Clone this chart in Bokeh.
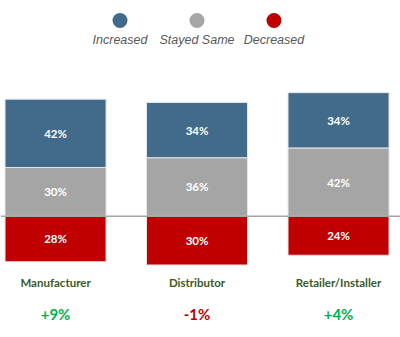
from bokeh.plotting import figure
from bokeh.models import Range1d, ColumnDataSource, Span
from bokeh.core.properties import value
from bokeh.embed import file_html
from bokeh.resources import INLINE

categories = ["Manufacturer", "Distributor", "Retailer/Installer"]
increased = [42, 34, 34]
stayed_same = [30, 36, 42]
decreased = [28, 30, 24]
net_labels = ["+9%", "-1%", "+4%"]
net_colors = ["#00b050", "#c00000", "#00b050"]
series_names = ["Increased", "Stayed Same", "Decreased"]
series_colors = ["#426a8a", "#a5a5a5", "#c00000"]

W, H = 400, 337
X0, X1 = -0.389, 2.438
Y0, Y1 = -74.6, 132.7


def px2x(px):
    return X0 + px / W * (X1 - X0)


def py2y(py):
    return Y1 - py / H * (Y1 - Y0)


p = figure(width=W, height=H, output_backend="svg", toolbar_location=None,
           x_range=Range1d(X0, X1), y_range=Range1d(Y0, Y1), min_border=0)
p.axis.visible = False
p.grid.visible = False
p.outline_line_color = None
p.background_fill_color = "white"
p.border_fill_color = "white"

xs = list(range(len(categories)))

p.add_layout(Span(location=0, dimension="width", line_color="#a6a6a6", line_width=1.5))

src = ColumnDataSource(dict(
    x=xs,
    dec_b=[-d for d in decreased], dec_t=[0] * len(xs),
    same_b=[0] * len(xs), same_t=stayed_same,
    inc_b=stayed_same, inc_t=[s + i for s, i in zip(stayed_same, increased)],
    dec_m=[-d / 2 for d in decreased],
    same_m=[s / 2 for s in stayed_same],
    inc_m=[s + i / 2 for s, i in zip(stayed_same, increased)],
    dec_l=[f"{d}%" for d in decreased],
    same_l=[f"{s}%" for s in stayed_same],
    inc_l=[f"{i}%" for i in increased],
))

bw = 0.714
for b, t, c in [("dec_b", "dec_t", series_colors[2]),
                ("same_b", "same_t", series_colors[1]),
                ("inc_b", "inc_t", series_colors[0])]:
    p.vbar(x="x", bottom=b, top=t, width=bw, source=src, fill_color=c,
           line_color="#e6e6e6", line_width=1)

for m, l in [("dec_m", "dec_l"), ("same_m", "same_l"), ("inc_m", "inc_l")]:
    p.text(x="x", y=m, text=l, source=src, text_color="white",
           text_font=value("Lato"), text_font_style="bold", text_font_size="11.5px",
           text_align="center", text_baseline="middle")

# category labels
p.text(x=xs, y=[py2y(281.5)] * len(xs), text=categories, text_color="#3a5a2a",
       text_font=value("Lato"), text_font_style="bold", text_font_size="11.5px",
       text_align="center", text_baseline="middle")

# net labels
p.text(x=xs, y=[py2y(313.5)] * len(xs), text=net_labels, text_color=net_colors,
       text_font=value("Lato"), text_font_style="bold", text_font_size="15px",
       text_align="center", text_baseline="middle")

# legend
leg_px = [119.5, 196.5, 273.5]
p.scatter(x=[px2x(v) for v in leg_px], y=[py2y(20)] * 3, size=15,
          fill_color=series_colors, line_color=None, marker="circle")
p.text(x=[px2x(v) for v in leg_px], y=[py2y(39)] * 3, text=series_names,
       text_color="#595959", text_font=value("Liberation Sans"),
       text_font_style="italic", text_font_size="12.5px",
       text_align="center", text_baseline="middle")

open("out.html", "w").write(file_html(p, INLINE))
